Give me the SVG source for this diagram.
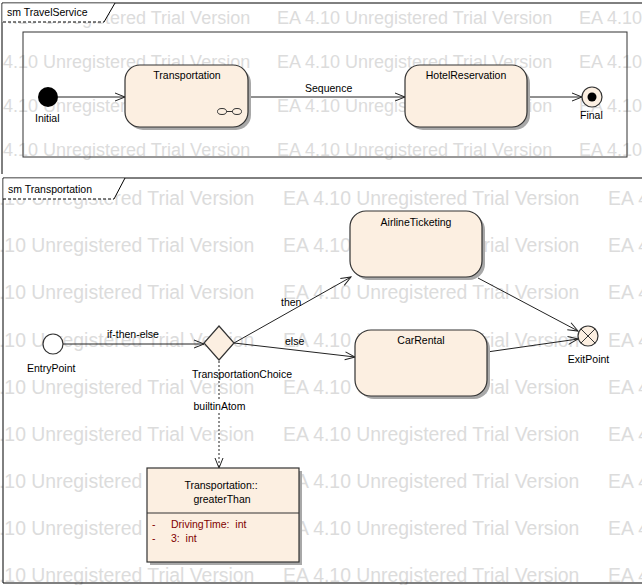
<svg xmlns="http://www.w3.org/2000/svg" width="642" height="585" viewBox="0 0 642 585">
<defs>
<marker id="open" markerWidth="12" markerHeight="10" refX="11" refY="5" orient="auto" markerUnits="userSpaceOnUse">
<path d="M1,1 L11,5 L1,9" fill="none" stroke="#222" stroke-width="1"/>
</marker>
</defs>
<style>
.wm1{font-family:"Liberation Sans",Arial,sans-serif;font-size:18px;fill:#dcdcdc}
.wm2{font-family:"Liberation Sans",Arial,sans-serif;font-size:19.4px;fill:#dcdcdc}
.lbl{font-family:"Liberation Sans",Arial,sans-serif;font-size:10.5px;fill:#000}
.mid{text-anchor:middle}
.attr{font-family:"Liberation Sans",Arial,sans-serif;font-size:10.5px;fill:#800000;white-space:pre}
.st{fill:#fcefe1;stroke:#333;stroke-width:1.2}
.sh{fill:#a8a8a8}
.ln{stroke:#222;stroke-width:1;fill:none}
.frame{stroke:#000;stroke-width:1;fill:none}
</style>
<rect width="642" height="585" fill="#fff"/>
<g id="watermark">
<text class="wm1" x="-25" y="24">EA 4.10 Unregistered Trial Version</text>
<text class="wm1" x="277" y="24">EA 4.10 Unregistered Trial Version</text>
<text class="wm1" x="579" y="24">EA 4.10 Unregistered Trial Version</text>
<text class="wm1" x="-25" y="68">EA 4.10 Unregistered Trial Version</text>
<text class="wm1" x="277" y="68">EA 4.10 Unregistered Trial Version</text>
<text class="wm1" x="579" y="68">EA 4.10 Unregistered Trial Version</text>
<text class="wm1" x="-25" y="112">EA 4.10 Unregistered Trial Version</text>
<text class="wm1" x="277" y="112">EA 4.10 Unregistered Trial Version</text>
<text class="wm1" x="579" y="112">EA 4.10 Unregistered Trial Version</text>
<text class="wm1" x="-25" y="156">EA 4.10 Unregistered Trial Version</text>
<text class="wm1" x="277" y="156">EA 4.10 Unregistered Trial Version</text>
<text class="wm1" x="579" y="156">EA 4.10 Unregistered Trial Version</text>
<text class="wm2" x="-42" y="205">EA 4.10 Unregistered Trial Version</text>
<text class="wm2" x="283" y="205">EA 4.10 Unregistered Trial Version</text>
<text class="wm2" x="608" y="205">EA 4.10 Unregistered Trial Version</text>
<text class="wm2" x="-42" y="252">EA 4.10 Unregistered Trial Version</text>
<text class="wm2" x="283" y="252">EA 4.10 Unregistered Trial Version</text>
<text class="wm2" x="608" y="252">EA 4.10 Unregistered Trial Version</text>
<text class="wm2" x="-42" y="299">EA 4.10 Unregistered Trial Version</text>
<text class="wm2" x="283" y="299">EA 4.10 Unregistered Trial Version</text>
<text class="wm2" x="608" y="299">EA 4.10 Unregistered Trial Version</text>
<text class="wm2" x="-42" y="347">EA 4.10 Unregistered Trial Version</text>
<text class="wm2" x="283" y="347">EA 4.10 Unregistered Trial Version</text>
<text class="wm2" x="608" y="347">EA 4.10 Unregistered Trial Version</text>
<text class="wm2" x="-42" y="394">EA 4.10 Unregistered Trial Version</text>
<text class="wm2" x="283" y="394">EA 4.10 Unregistered Trial Version</text>
<text class="wm2" x="608" y="394">EA 4.10 Unregistered Trial Version</text>
<text class="wm2" x="-42" y="441">EA 4.10 Unregistered Trial Version</text>
<text class="wm2" x="283" y="441">EA 4.10 Unregistered Trial Version</text>
<text class="wm2" x="608" y="441">EA 4.10 Unregistered Trial Version</text>
<text class="wm2" x="-42" y="488">EA 4.10 Unregistered Trial Version</text>
<text class="wm2" x="283" y="488">EA 4.10 Unregistered Trial Version</text>
<text class="wm2" x="608" y="488">EA 4.10 Unregistered Trial Version</text>
<text class="wm2" x="-42" y="535">EA 4.10 Unregistered Trial Version</text>
<text class="wm2" x="283" y="535">EA 4.10 Unregistered Trial Version</text>
<text class="wm2" x="608" y="535">EA 4.10 Unregistered Trial Version</text>
<text class="wm2" x="-42" y="582">EA 4.10 Unregistered Trial Version</text>
<text class="wm2" x="283" y="582">EA 4.10 Unregistered Trial Version</text>
<text class="wm2" x="608" y="582">EA 4.10 Unregistered Trial Version</text>
</g>
<g id="frame-travelservice">
<path class="frame" d="M2,174 V3 H642"/>
<rect x="23" y="32" width="604" height="125" fill="none" stroke="#333" stroke-width="1"/>
<path d="M2.5,3.5 H115 L104,22 H2.5 Z" fill="#fff"/>
<path class="frame" d="M115,3 L104,22"/>
<path class="frame" d="M3,22 H104" stroke-dasharray="3,2"/>
<text class="lbl" x="7" y="16">sm TravelService</text>
</g>
<g id="frame-transportation">
<path class="frame" d="M3,583 V178 H642 M3,583 H642"/>
<path d="M3.5,178.5 H125 L114,199 H3.5 Z" fill="#fff"/>
<path class="frame" d="M125,178 L114,199"/>
<path class="frame" d="M3,199 H114" stroke-dasharray="3,2"/>
<text class="lbl" x="8" y="193">sm Transportation</text>
</g>
<g id="connectors">
<path class="ln" d="M58,97 H125" marker-end="url(#open)"/>
<path class="ln" d="M248,97 H405" marker-end="url(#open)"/>
<text class="lbl" x="305" y="92">Sequence</text>
<path class="ln" d="M527,97 H582" marker-end="url(#open)"/>
<path class="ln" d="M63,344 H204" marker-end="url(#open)"/>
<text class="lbl" x="107" y="338">if-then-else</text>
<path class="ln" d="M234,343 L351,277" marker-end="url(#open)"/>
<text class="lbl" x="281" y="306">then</text>
<path class="ln" d="M234,343 L355,357" marker-end="url(#open)"/>
<text class="lbl" x="285" y="345">else</text>
<path class="ln" d="M478,278 L578,331" marker-end="url(#open)"/>
<path class="ln" d="M487,352 L578,339" marker-end="url(#open)"/>
<path class="ln" d="M219,361 V400" stroke-dasharray="2,2"/>
<path class="ln" d="M219,413 V468" stroke-dasharray="2,2" marker-end="url(#open)"/>
<text class="lbl mid" x="219.5" y="410">builtinAtom</text>
</g>
<g id="initial">
<circle cx="48" cy="97" r="10" fill="#000"/>
<text class="lbl" x="35" y="122">Initial</text>
</g>
<g id="transportation">
<rect class="sh" x="128" y="68" width="123" height="62" rx="15"/>
<rect class="st" x="125" y="65" width="123" height="62" rx="15"/>
<text class="lbl mid" x="187" y="79">Transportation</text>
<ellipse cx="222" cy="111.5" rx="4.5" ry="3" fill="none" stroke="#333"/>
<ellipse cx="237" cy="111.5" rx="4.5" ry="3" fill="none" stroke="#333"/>
<path d="M226.5,111.5 H232.5" stroke="#333" fill="none"/>
</g>
<g id="hotelreservation">
<rect class="sh" x="408" y="68" width="122" height="62" rx="15"/>
<rect class="st" x="405" y="65" width="122" height="62" rx="15"/>
<text class="lbl mid" x="466" y="79">HotelReservation</text>
</g>
<g id="final">
<circle cx="592" cy="97" r="10" fill="#fcefe1" stroke="#333" stroke-width="1.2"/>
<circle cx="592" cy="97" r="4.5" fill="#000"/>
<text class="lbl" x="580" y="119">Final</text>
</g>
<g id="entrypoint">
<circle cx="53" cy="344" r="10" fill="#fff" stroke="#333" stroke-width="1.2"/>
<text class="lbl" x="27" y="372">EntryPoint</text>
</g>
<g id="transportationchoice">
<polygon points="219,326 234,343 219,360 204,343" class="st"/>
<text class="lbl mid" x="242" y="378">TransportationChoice</text>
</g>
<g id="airlineticketing">
<rect class="sh" x="353" y="214" width="132" height="66" rx="16"/>
<rect class="st" x="350" y="211" width="132" height="66" rx="16"/>
<text class="lbl mid" x="416" y="226">AirlineTicketing</text>
</g>
<g id="carrental">
<rect class="sh" x="358" y="333" width="132" height="66" rx="16"/>
<rect class="st" x="355" y="330" width="132" height="66" rx="16"/>
<text class="lbl mid" x="421" y="344">CarRental</text>
</g>
<g id="exitpoint">
<circle cx="588" cy="336" r="10" fill="#fcefe1" stroke="#333" stroke-width="1.2"/>
<path d="M580.9,328.9 L595.1,343.1 M595.1,328.9 L580.9,343.1" stroke="#333" fill="none"/>
<text class="lbl mid" x="588.5" y="363">ExitPoint</text>
</g>
<g id="greaterthan">
<rect class="sh" x="150" y="471" width="152" height="94"/>
<rect x="147" y="468" width="152" height="94" fill="#fcefe1" stroke="#333" stroke-width="1.2"/>
<path d="M147,513 H299" stroke="#333" fill="none"/>
<text class="lbl mid" x="221" y="489">Transportation::</text>
<text class="lbl mid" x="222" y="503">greaterThan</text>
<text class="attr" x="152" y="528">-</text>
<text class="attr" x="171" y="528">DrivingTime:  int</text>
<text class="attr" x="152" y="542">-</text>
<text class="attr" x="171" y="542">3:  int</text>
</g>
</svg>
